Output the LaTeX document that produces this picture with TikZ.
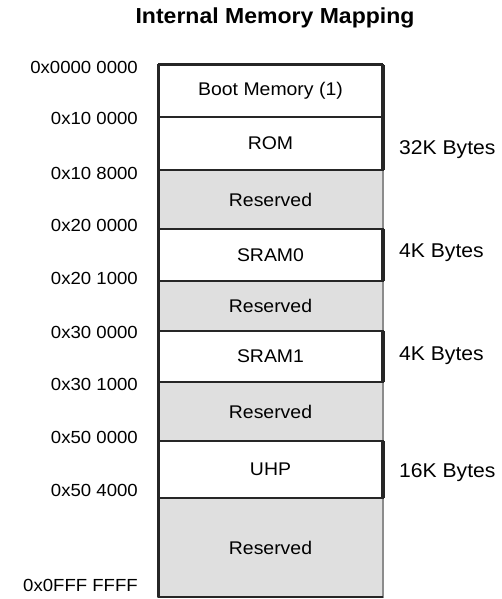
\documentclass[tikz,border=0pt]{standalone}
\usepackage{fontspec}
\setmainfont{Liberation Sans}[FakeStretch=1.06]
\definecolor{frame}{RGB}{38,38,38}
\definecolor{resgray}{RGB}{223,223,223}
\definecolor{resedge}{RGB}{140,140,140}
\begin{document}
\begin{tikzpicture}[x=1bp,y=-1bp,
  region/.style={rectangle, inner sep=0pt, outer sep=0pt, minimum width=225bp,
    anchor=north west, font=\fontsize{18.4}{20}\selectfont},
  used/.style={region, fill=white, draw=frame, line width=2.3bp},
  reserved/.style={region, fill=resgray, draw=resedge, line width=1.4bp},
  addr/.style={anchor=base east, inner sep=0pt, font=\fontsize{17.6}{20}\selectfont},
  sizelbl/.style={anchor=base west, inner sep=0pt, font=\fontsize{20}{22}\selectfont},
  edge/.style={draw=frame, line width=3.4bp}]
\useasboundingbox (0,0) rectangle (502,599);

% title
\node[anchor=base, inner sep=0pt, font=\bfseries\fontsize{21.8}{24}\selectfont]
  (title) at (275,24) {Internal Memory Mapping};

% reserved areas (drawn first, so the used areas' borders lie on top)
\node[reserved, minimum height=59bp] (res1) at (158,170) {Reserved};
\node[reserved, minimum height=50bp] (res2) at (158,281) {Reserved};
\node[reserved, minimum height=59bp] (res3) at (158,382) {Reserved};
\node[reserved, minimum height=99bp] (res4) at (158,498) {Reserved};

% used areas
\node[used, minimum height=52bp] (boot)  at (158,65)  {Boot Memory (1)};
\node[used, minimum height=53bp] (rom)   at (158,117) {ROM};
\node[used, minimum height=52bp] (sram0) at (158,229) {SRAM0};
\node[used, minimum height=51bp] (sram1) at (158,331) {SRAM1};
\node[used, minimum height=57bp] (uhp)   at (158,441) {UHP};

% heavier right edge of the used areas
\draw[edge] (boot.north east) -- (rom.south east);
\draw[edge] (sram0.north east) -- (sram0.south east);
\draw[edge] (sram1.north east) -- (sram1.south east);
\draw[edge] (uhp.north east) -- (uhp.south east);

% outer frame: top, left and bottom
\draw[frame, line width=3bp] (boot.north west) -- (boot.north east);
\draw[frame, line width=3bp] (boot.north west) -- (res4.south west);
\draw[frame, line width=2.6bp] (res4.south west) -- (res4.south east);

% start addresses
\node[addr] (a0) at (138,73.5)  {0x0000 0000};
\node[addr] (a1) at (138,124.5) {0x10 0000};
\node[addr] (a2) at (138,179.5) {0x10 8000};
\node[addr] (a3) at (138,231.5) {0x20 0000};
\node[addr] (a4) at (138,284.5) {0x20 1000};
\node[addr] (a5) at (138,338.5) {0x30 0000};
\node[addr] (a6) at (138,390.5) {0x30 1000};
\node[addr] (a7) at (138,443.5) {0x50 0000};
\node[addr] (a8) at (138,496.5) {0x50 4000};
\node[addr] (a9) at (138,591.5) {0x0FFF FFFF};

% sizes
\node[sizelbl] (s0) at (399,155) {32K Bytes};
\node[sizelbl] (s1) at (399,257) {4K Bytes};
\node[sizelbl] (s2) at (399,360) {4K Bytes};
\node[sizelbl] (s3) at (399,477) {16K Bytes};
\end{tikzpicture}
\end{document}
